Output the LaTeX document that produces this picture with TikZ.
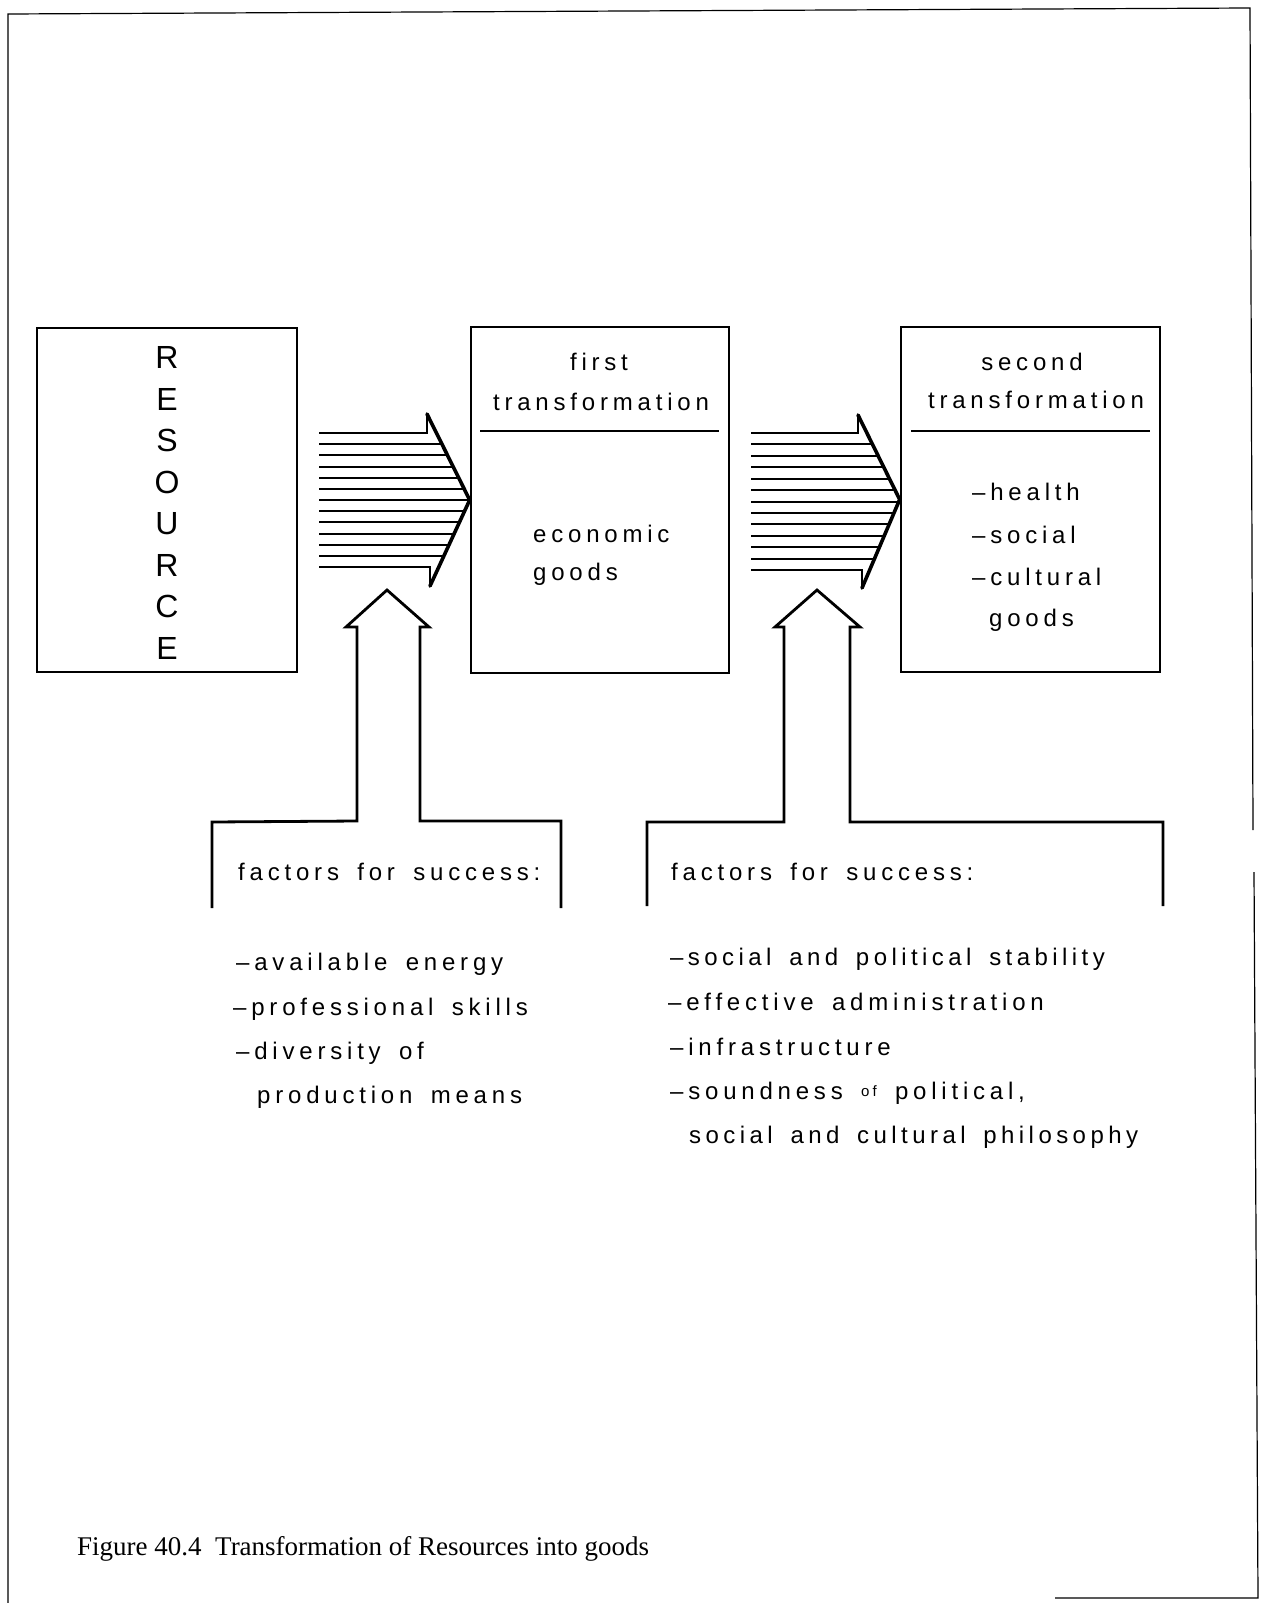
\documentclass[tikz,border=0pt]{standalone}
\usepackage{fontspec}
\setmainfont{Liberation Sans}
\newfontfamily\typew{Liberation Sans}[LetterSpace=20, WordSpace=1.6]
\newfontfamily\typewn{Liberation Sans}[LetterSpace=18.5, WordSpace=1.6]
\newfontfamily\capf{Liberation Serif}
\newcommand\dsh{–}
\begin{document}
\begin{tikzpicture}[x=1pt,y=-1pt,
  box/.style={draw, line width=2.6pt, inner sep=0pt},
  txt/.style={anchor=base west, inner sep=0pt, font=\typew\fontsize{24}{24}\selectfont},
  ntxt/.style={anchor=base west, inner sep=0pt, font=\typewn\fontsize{24}{24}\selectfont},
  ctxt/.style={anchor=base, inner sep=0pt, font=\typew\fontsize{24}{24}\selectfont},
  frameline/.style={line width=1.2pt},
  outl/.style={line width=2.2pt, line join=miter},
  diag/.style={line width=3.6pt, line join=miter, line cap=round},
  hatch/.style={line width=2pt}]
\useasboundingbox (0,0) rectangle (1263,1603);

% page frame
\draw[frameline] (8,1603) -- (8,14) -- (1250,8) -- (1253,830);
\draw[frameline] (1254,872) -- (1258,1598) -- (1055,1598);

% boxes
\node[box, minimum width=260pt, minimum height=344pt] (res) at (167,500) {};
\node[box, minimum width=258pt, minimum height=346pt] (first) at (600,500) {};
\node[box, minimum width=259pt, minimum height=345pt] (second) at (1030.5,499.5) {};
\draw[line width=2pt] (480,431) -- (719,431);
\draw[line width=2pt] (911,431) -- (1150,431);

% RESOURCE
\node[inner sep=0pt, align=center, font=\fontsize{32}{41.5}\selectfont] (rt) at (167,503) {R\\E\\S\\O\\U\\R\\C\\E};

% box texts
\node[ctxt] (t1a) at (599,370) {first};
\node[ctxt] (t1b) at (601,410) {transformation};
\node[txt] (t1c) at (533,542) {economic};
\node[txt] (t1d) at (533,580) {goods};
\node[ctxt] (t2a) at (1032,370) {second};
\node[ctxt] (t2b) at (1036,408) {transformation};
\node[txt] (t2c) at (972,500) {\dsh health};
\node[txt] (t2d) at (972,543) {\dsh social};
\node[txt] (t2e) at (972,585) {\dsh cultural};
\node[txt] (t2f) at (989,626) {goods};

% hatched arrow 1
\coordinate (a1t) at (427,414);
\coordinate (a1b) at (430,586);
\begin{scope}
\clip (319,433) -- (427,433) -- (a1t) -- (first.west) -- (a1b) -- (430,567) -- (319,567) -- cycle;
\foreach \k in {1,...,11} \draw[hatch] (319,433+\k*11.17) -- (480,433+\k*11.17);
\end{scope}
\draw[outl] (319,433) -- (427,433) -- (a1t);
\draw[outl] (a1b) -- (430,567) -- (319,567);
\draw[diag] (a1t) -- (first.west) -- (a1b);

% hatched arrow 2
\coordinate (a2t) at (858,415);
\coordinate (a2b) at (862,588);
\begin{scope}
\clip (751,433) -- (858,433) -- (a2t) -- (second.west) -- (a2b) -- (862,570) -- (751,570) -- cycle;
\foreach \k in {1,...,11} \draw[hatch] (751,433+\k*11.42) -- (910,433+\k*11.42);
\end{scope}
\draw[outl] (751,433) -- (858,433) -- (a2t);
\draw[outl] (a2b) -- (862,570) -- (751,570);
\draw[diag] (a2t) -- (second.west) -- (a2b);

% up arrow + open box 1
\coordinate (u1) at (387,590);
\draw[line width=2.8pt, line join=miter] (212,908) -- (212,822) -- (357,821) -- (357,627) -- (346,627) -- (u1) -- (429,627) -- (420,627) -- (420,821) -- (561,821) -- (561,908);
\node[txt] (f1) at (238,880) {factors for success:};

% up arrow + open box 2
\coordinate (u2) at (817,590);
\draw[line width=2.8pt, line join=miter] (647,906) -- (647,822) -- (784,822) -- (784,627) -- (775,627) -- (u2) -- (860,627) -- (850,627) -- (850,822) -- (1163,822) -- (1163,906);
\node[txt] (f2) at (671,880) {factors for success:};

% lists
\node[txt] (l1) at (236,970) {\dsh available energy};
\node[txt] (l2) at (233,1015) {\dsh professional skills};
\node[txt] (l3) at (236,1059) {\dsh diversity of};
\node[txt] (l4) at (257,1103) {production means};

\node[ntxt] (r1) at (670,965) {\dsh social and political stability};
\node[txt] (r2) at (668,1010) {\dsh effective administration};
\node[txt] (r3) at (670,1055) {\dsh infrastructure};
\node[txt] (r4) at (670,1099) {\dsh soundness {\fontsize{15}{15}\selectfont\raisebox{3pt}{of}} political,};
\node[ntxt] (r5) at (689,1143) {social and cultural philosophy};

% caption
\node[anchor=base west, inner sep=0pt, font=\capf\fontsize{27}{27}\selectfont] (cap) at (77,1555) {Figure 40.4\ \ Transformation of Resources into goods};
\end{tikzpicture}
\end{document}
